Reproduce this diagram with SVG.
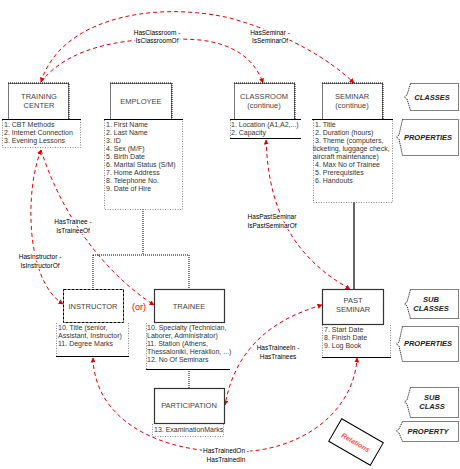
<svg xmlns="http://www.w3.org/2000/svg" width="460" height="469" viewBox="0 0 460 469">
<defs>
<marker id="ah" viewBox="0 0 10 10" refX="9" refY="5" markerWidth="5" markerHeight="5" orient="auto-start-reverse"><path d="M0,0 L10,5 L0,10 z" fill="#e00000"/></marker>
<style>
text{font-family:"Liberation Sans",Arial,sans-serif;}
.hd{fill:#fff;stroke:#777;stroke-width:1;}
.dot{fill:none;stroke:#000;stroke-width:1;stroke-dasharray:1 1;}
.ht{font-size:7.5px;fill:#444;text-anchor:middle;}
.pt{font-size:7px;fill:#333;}
.top{stroke:#000;stroke-width:1.2;}
.side{fill:none;stroke:#888;stroke-width:1;stroke-dasharray:1 1.5;}
.rel{fill:none;stroke:#e00000;stroke-width:1;stroke-dasharray:4 3;}
.lb{font-size:6.5px;fill:#000;text-anchor:middle;stroke:#fff;stroke-width:2.5px;paint-order:stroke;}
.tag{fill:#fff;stroke:#000;stroke-width:1;stroke-dasharray:1 1;}
.tt{font-size:7.5px;font-weight:bold;font-style:italic;fill:#222;text-anchor:middle;}
.sol{fill:#fff;stroke:#333;stroke-width:1.2;}
</style>
</defs>
<rect width="460" height="469" fill="#fff"/>

<g id="connectors">
<path class="dot" d="M143,209 V255 M93,255 H189 M93,255 V289 M189,255 V289 M189,369 V388"/>
<line x1="354" y1="202" x2="354" y2="289" stroke="#000" stroke-width="1.2"/>
<path class="rel" marker-start="url(#ah)" marker-end="url(#ah)" d="M41,82 C60,20 150,0 230,18 C290,35 330,60 354,83"/>
<path class="rel" marker-end="url(#ah)" d="M41,82 C70,45 130,35 200,40 C235,44 255,60 263,83"/>
<path class="rel" marker-start="url(#ah)" marker-end="url(#ah)" d="M266,140 C268,190 280,250 350,289"/>
<path class="rel" marker-start="url(#ah)" marker-end="url(#ah)" d="M41,150 C25,190 25,280 63,304"/>
<path class="rel" marker-end="url(#ah)" d="M41,150 C60,210 100,270 154,305"/>
<path class="rel" marker-start="url(#ah)" marker-end="url(#ah)" d="M322,305 C270,320 235,350 225,405"/>
<path class="rel" marker-start="url(#ah)" marker-end="url(#ah)" d="M93,358 C95,430 180,460 260,450 C320,440 355,400 357,358"/>
<text class="lb" x="157" y="35">HasClassroom -</text>
<text class="lb" x="157" y="43">IsClassroomOf</text>
<text class="lb" x="270" y="35">HasSeminar -</text>
<text class="lb" x="270" y="43">IsSeminarOf</text>
<text class="lb" x="272" y="219">HasPastSeminar</text>
<text class="lb" x="272" y="228">IsPastSeminarOf</text>
<text class="lb" x="73" y="224">HasTrainee -</text>
<text class="lb" x="73" y="233">IsTraineeOf</text>
<text class="lb" x="40" y="259">HasInstructor -</text>
<text class="lb" x="40" y="268">IsInstructorOf</text>
<text class="lb" x="278" y="350">HasTraineeIn -</text>
<text class="lb" x="278" y="359">HasTrainees</text>
<text class="lb" x="226" y="453">HasTrainedOn -</text>
<text class="lb" x="226" y="462">HasTrainedIn</text>
<text x="139" y="310" font-size="9" fill="#e00000" text-anchor="middle">(or)</text>
</g>

<g id="training-center">
<rect class="hd" x="8.5" y="83.5" width="60" height="36"/>
<path class="dot" d="M8,83 H69 V119"/>
<text class="ht" x="39" y="99">TRAINING</text>
<text class="ht" x="39" y="108">CENTER</text>
<line class="top" x1="2" y1="119.5" x2="81" y2="119.5"/>
<path class="side" d="M2.5,120 V147.5 H80.5 V120"/>
<text class="pt" x="4" y="127">1. CBT Methods</text>
<text class="pt" x="4" y="135">2. Internet Connection</text>
<text class="pt" x="4" y="143">3. Evening Lessons</text>
</g>

<g id="employee">
<rect class="hd" x="110.5" y="83.5" width="61" height="36"/>
<path class="dot" d="M110,83 H172 V119"/>
<text class="ht" x="141" y="104">EMPLOYEE</text>
<line class="top" x1="104" y1="119.5" x2="183" y2="119.5"/>
<path class="side" d="M104.5,120 V209.5 H182.5 V120"/>
<text class="pt" x="106" y="127">1. First Name</text>
<text class="pt" x="106" y="135">2. Last Name</text>
<text class="pt" x="106" y="143">3. ID</text>
<text class="pt" x="106" y="151">4. Sex (M/F)</text>
<text class="pt" x="106" y="159">5. Birth Date</text>
<text class="pt" x="106" y="167">6. Marital Status (S/M)</text>
<text class="pt" x="106" y="175">7. Home Address</text>
<text class="pt" x="106" y="183">8. Telephone No.</text>
<text class="pt" x="106" y="191">9. Date of Hire</text>
</g>

<g id="classroom">
<rect class="hd" x="234.5" y="83.5" width="60" height="36"/>
<path class="dot" d="M234,83 H295 V119"/>
<text class="ht" x="264" y="99">CLASSROOM</text>
<text class="ht" x="264" y="108">(continue)</text>
<line class="top" x1="230" y1="119.5" x2="301" y2="119.5"/>
<path class="side" d="M230.5,120 V138"/>
<line class="top" x1="230" y1="138.5" x2="301" y2="138.5"/>
<text class="pt" x="231" y="127">1. Location (A1,A2,...)</text>
<text class="pt" x="231" y="135">2. Capacity</text>
</g>

<g id="seminar">
<rect class="hd" x="322.5" y="83.5" width="60" height="36"/>
<path class="dot" d="M322,83 H383 V119"/>
<text class="ht" x="352" y="99">SEMINAR</text>
<text class="ht" x="352" y="108">(continue)</text>
<line class="top" x1="312" y1="119.5" x2="393" y2="119.5"/>
<path class="side" d="M313.5,120 V202.5 H392.5 V120"/>
<text class="pt" x="315" y="127">1. Title</text>
<text class="pt" x="315" y="135">2. Duration (hours)</text>
<text class="pt" x="315" y="143">3. Theme (computers,</text>
<text class="pt" x="313" y="151">ticketing, luggage check,</text>
<text class="pt" x="313" y="159">aircraft maintenance)</text>
<text class="pt" x="315" y="167">4. Max No of Trainee</text>
<text class="pt" x="315" y="175">5. Prerequisites</text>
<text class="pt" x="315" y="183">6. Handouts</text>
</g>

<g id="instructor">
<rect x="63.5" y="289.5" width="60" height="33" fill="#fff" stroke="#000" stroke-width="1" stroke-dasharray="3 1"/>
<text class="ht" x="93" y="309">INSTRUCTOR</text>
<path class="side" d="M56.5,323 V356 M128.5,323 V356"/>
<line class="top" x1="56" y1="356.5" x2="129" y2="356.5"/>
<text class="pt" x="58" y="330">10. Title (senior,</text>
<text class="pt" x="58" y="338">Assistant, Instructor)</text>
<text class="pt" x="58" y="346">11. Degree Marks</text>
</g>

<g id="trainee">
<rect class="sol" x="154.5" y="289.5" width="70" height="33"/>
<text class="ht" x="189" y="309">TRAINEE</text>
<path class="side" d="M146.5,323 V369"/>
<line class="top" x1="146" y1="369.5" x2="230" y2="369.5"/>
<text class="pt" x="147" y="330">10. Specialty (Technician,</text>
<text class="pt" x="147" y="338">Laborer, Administrator)</text>
<text class="pt" x="147" y="346">11. Station (Athens,</text>
<text class="pt" x="147" y="354">Thessaloniki, Heraklion, ...)</text>
<text class="pt" x="147" y="362">12. No Of Seminars</text>
</g>

<g id="participation">
<rect class="sol" x="154.5" y="388.5" width="70" height="35"/>
<text class="ht" x="189" y="408">PARTICIPATION</text>
<path class="side" d="M152.5,424 V436.5 H223.5 V424"/>
<text class="pt" x="154" y="432">13. ExaminationMarks</text>
</g>

<g id="past-seminar">
<rect class="sol" x="322.5" y="289.5" width="61" height="35"/>
<text class="ht" x="353" y="303">PAST</text>
<text class="ht" x="353" y="312">SEMINAR</text>
<path class="side" d="M322.5,325 V357 M390.5,325 V357"/>
<line class="top" x1="322" y1="357.5" x2="391" y2="357.5"/>
<text class="pt" x="324" y="332">7. Start Date</text>
<text class="pt" x="324" y="340">8. Finish Date</text>
<text class="pt" x="324" y="348">9. Log Book</text>
</g>

<g id="legend">
<path class="tag" d="M410.5,83.5 H458.5 V110.5 H410.5 L407,99 L404.5,97 L407,95 Z"/>
<text class="tt" x="432" y="100">CLASSES</text>
<path class="tag" d="M402.5,119.5 H458.5 V155.5 H402.5 L399,139 L396.5,137 L399,135 Z"/>
<text class="tt" x="428" y="140">PROPERTIES</text>
<path class="tag" d="M410.5,289.5 H458.5 V318.5 H410.5 L407,306 L404.5,304 L407,302 Z"/>
<text class="tt" x="431" y="302">SUB</text>
<text class="tt" x="431" y="311">CLASSES</text>
<path class="tag" d="M402.5,326.5 H458.5 V361.5 H402.5 L399,346 L396.5,344 L399,342 Z"/>
<text class="tt" x="428" y="346">PROPERTIES</text>
<path class="tag" d="M410.5,387.5 H458.5 V417.5 H410.5 L407,404 L404.5,402 L407,400 Z"/>
<text class="tt" x="432" y="400">SUB</text>
<text class="tt" x="432" y="409">CLASS</text>
<path class="tag" d="M402.5,421.5 H458.5 V441.5 H402.5 L399,433 L396.5,431 L399,429 Z"/>
<text class="tt" x="428" y="434">PROPERTY</text>
</g>

<g id="relations" transform="translate(356,442) rotate(30)">
<rect x="-24" y="-13" width="48" height="26" fill="#fff" stroke="#000" stroke-width="1"/>
<text x="0" y="3" font-size="7px" font-weight="bold" font-style="italic" fill="#ff5050" text-anchor="middle">Relations</text>
</g>
</svg>
